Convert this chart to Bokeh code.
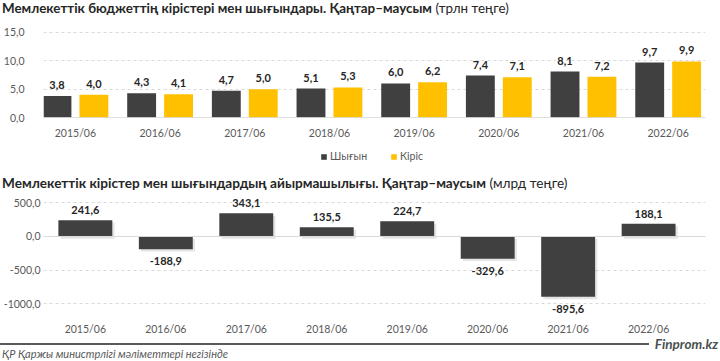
from bokeh.plotting import figure
from bokeh.models import (Range1d, FixedTicker, CustomJSTickFormatter, Span,
                          Legend, LegendItem, ColumnDataSource, Div)
from bokeh.transform import dodge
from bokeh.layouts import column
from bokeh.embed import file_html
from bokeh.resources import INLINE
from bokeh.core.properties import value

# ---- data ----
years = ["2015/06", "2016/06", "2017/06", "2018/06", "2019/06", "2020/06", "2021/06", "2022/06"]
expenses = [3.8, 4.3, 4.7, 5.1, 6.0, 7.4, 8.1, 9.7]      # Шығын, трлн теңге
revenues = [4.0, 4.1, 5.0, 5.3, 6.2, 7.1, 7.2, 9.9]      # Кіріс, трлн теңге
balance = [241.6, -188.9, 343.1, 135.5, 224.7, -329.6, -895.6, 188.1]  # млрд теңге
top_ticks = [0, 5, 10, 15]
bottom_ticks = [-1000, -500, 0, 500]
series_names = ["Шығын", "Кіріс"]

title1_bold = "Мемлекеттік бюджеттің кірістері мен шығындары. Қаңтар–маусым"
title1_unit = "(трлн теңге)"
title2_bold = "Мемлекеттік кірістер мен шығындардың айырмашылығы. Қаңтар–маусым"
title2_unit = "(млрд теңге)"
source_note = "ҚР Қаржы министрлігі мәліметтері негізінде"
brand = "Finprom.kz"

FONT = "Lato"
DARK = "#404040"
GOLD = "#ffc000"
GRID = "#d9d9d9"
TICK = "#595959"
LBL = "#262626"
W = 720
BL, BR = 41, 15          # common frame borders (column aligns frames)

idx = list(range(len(years)))
year_labels = {i: y for i, y in zip(idx, years)}


def fmt(v):
    return f"{v:.1f}".replace(".", ",")


def style(p, ticks, standoff_y):
    p.outline_line_color = None
    p.background_fill_alpha = 0
    p.border_fill_alpha = 0
    p.xgrid.grid_line_color = None
    p.ygrid.grid_line_color = GRID
    p.ygrid.grid_line_dash = "3 3"
    p.ygrid.ticker = FixedTicker(ticks=ticks)
    for ax in (p.xaxis, p.yaxis):
        ax.axis_line_color = None
        ax.major_tick_line_color = None
        ax.minor_tick_line_color = None
        ax.major_tick_out = 0
        ax.major_tick_in = 0
        ax.minor_tick_out = 0
        ax.minor_tick_in = 0
        ax.major_label_text_font = FONT
        ax.major_label_text_font_size = "10.5px"
        ax.major_label_text_color = TICK
    p.xaxis.ticker = FixedTicker(ticks=idx)
    p.xaxis.major_label_overrides = year_labels
    p.yaxis.ticker = FixedTicker(ticks=ticks)
    p.yaxis.formatter = CustomJSTickFormatter(code="return tick.toFixed(1).replace('.', ',');")
    p.yaxis.major_label_standoff = standoff_y


def title_div(bold, unit, h, pad, size):
    html = (f'<div style="font-family:{FONT};font-size:{size}px;line-height:14px;color:{LBL};'
            f'white-space:nowrap;margin:0;padding:{pad}px 0 0 2px"><b>{bold}</b> {unit}</div>')
    return Div(text=html, width=W, height=h, margin=0)


# ---- top chart ----
src1 = ColumnDataSource(dict(idx=idx, exp=expenses, rev=revenues,
                             exp_lbl=[fmt(v) for v in expenses],
                             rev_lbl=[fmt(v) for v in revenues]))

p1 = figure(x_range=Range1d(-0.377, 7.441), y_range=Range1d(0, 15.35), width=W, height=125,
            output_backend="svg", toolbar_location=None,
            min_border_left=BL, min_border_right=BR, min_border_top=14, min_border_bottom=24)
style(p1, top_ticks, 19)
p1.xaxis.major_label_standoff = 9

off = 0.218
bw = 0.341
p1.vbar(x=dodge("idx", -off), top="exp", width=bw, source=src1,
        fill_color=DARK, line_color=None)
p1.vbar(x=dodge("idx", off), top="rev", width=bw, source=src1,
        fill_color=GOLD, line_color=None)
for col, lbl, dx in (("exp", "exp_lbl", -off), ("rev", "rev_lbl", off)):
    p1.text(x=dodge("idx", dx), y=col, text=lbl, source=src1,
            text_align="center", text_baseline="bottom", y_offset=-7,
            text_font=value(FONT), text_font_style="bold", text_font_size="11px",
            text_color=LBL)
p1.add_layout(Span(location=0, dimension="width", line_color="#bfbfbf", line_width=1))

# ---- legend strip (series renderers kept outside the strip's visible range) ----
pl = figure(width=W, height=29, x_range=Range1d(0, 1), y_range=Range1d(1000, 1001),
            output_backend="svg", toolbar_location=None,
            min_border_left=BL, min_border_right=BR, min_border_top=0, min_border_bottom=0)
pl.axis.visible = False
pl.grid.visible = False
pl.outline_line_color = None
pl.background_fill_alpha = 0
pl.border_fill_alpha = 0
r_exp = pl.vbar(x="idx", top="exp", width=0.1, source=src1, fill_color=DARK, line_color=None)
r_rev = pl.vbar(x="idx", top="rev", width=0.1, source=src1, fill_color=GOLD, line_color=None)
legend = Legend(items=[LegendItem(label=series_names[0], renderers=[r_exp]),
                       LegendItem(label=series_names[1], renderers=[r_rev])],
                orientation="horizontal", location=(277, 8),
                glyph_width=7, glyph_height=7, label_height=10, label_standoff=3,
                spacing=23, padding=0, margin=0, border_line_color=None,
                background_fill_alpha=0, label_text_font=FONT,
                label_text_font_size="10.5px", label_text_color=TICK)
pl.add_layout(legend)

# ---- bottom chart ----
src2 = ColumnDataSource(dict(idx=idx, val=balance,
                             pos=[v if v >= 0 else float("nan") for v in balance],
                             neg=[v if v < 0 else float("nan") for v in balance],
                             pos_lbl=[fmt(v) if v >= 0 else "" for v in balance],
                             neg_lbl=[fmt(v) if v < 0 else "" for v in balance],
                             sh_top=[v - 35 for v in balance],
                             sh_bot=[-35 for v in balance]))

p2 = figure(x_range=Range1d(-0.520, 7.707), y_range=Range1d(-1261, 682), width=W, height=148,
            output_backend="svg", toolbar_location=None,
            min_border_left=BL, min_border_right=BR, min_border_top=0, min_border_bottom=17)
style(p2, bottom_ticks, 3)
p2.xaxis.major_label_standoff = 1

# soft drop shadow (about 2-3px right and down)
p2.vbar(x=dodge("idx", 0.028), top="sh_top", bottom="sh_bot", width=0.67,
        source=src2, fill_color="#000000", fill_alpha=0.10, line_color=None)
p2.add_layout(Span(location=0, dimension="width", line_color=GRID, line_width=1))
p2.vbar(x="idx", top="val", width=0.67, source=src2, fill_color=DARK, line_color=None)
p2.text(x="idx", y="pos", text="pos_lbl", source=src2, text_align="center",
        text_baseline="bottom", y_offset=-6, text_font=value(FONT), text_font_style="bold",
        text_font_size="11px", text_color=LBL)
p2.text(x="idx", y="neg", text="neg_lbl", source=src2, text_align="center",
        text_baseline="top", y_offset=8, text_font=value(FONT), text_font_style="bold",
        text_font_size="11px", text_color=LBL)

# ---- footer ----
footer_html = (
    f'<div style="position:relative;width:{W}px;height:23px;margin:0;padding:0">'
    '<div style="position:absolute;left:0;top:5px;width:649px;height:2px;background:#5a5a5a"></div>'
    f'<div style="position:absolute;right:2px;top:-1px;font-family:{FONT};font-size:13.5px;'
    f'font-weight:bold;font-style:italic;color:#4a5152;line-height:14px">{brand}</div>'
    f'<div style="position:absolute;left:2px;top:10px;font-family:{FONT};font-size:11px;'
    f'font-style:italic;color:{TICK};line-height:12px;white-space:nowrap">{source_note}</div>'
    '</div>')
footer = Div(text=footer_html, width=W, height=23, margin=0)

layout = column(title_div(title1_bold, title1_unit, 16, 1, 13.4), p1, pl,
                title_div(title2_bold, title2_unit, 20, 6, 13.6), p2, footer, spacing=0)
open("out.html", "w").write(file_html(layout, INLINE))
